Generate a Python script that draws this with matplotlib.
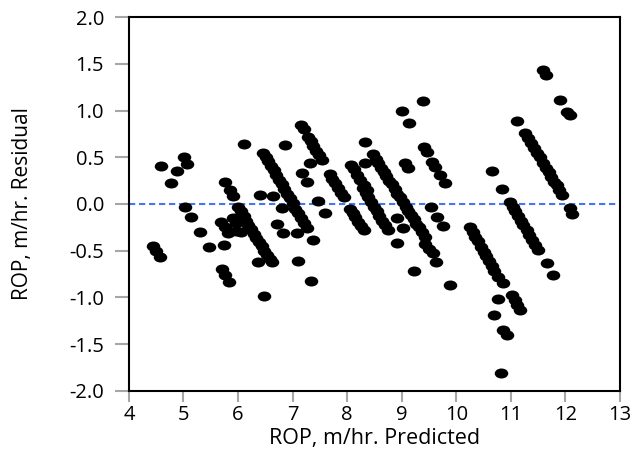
import matplotlib
matplotlib.use('Agg')
import matplotlib.pyplot as plt
from matplotlib.path import Path
from matplotlib.transforms import Affine2D

plt.rcParams['font.family'] = ['Open Sans', 'DejaVu Sans']

# predicted ROP (m/hr) and residual (m/hr)
pred = [
    4.44, 4.49, 4.57, 4.59, 4.88, 5.01, 5.06, 4.77,
    5.03, 5.14, 5.30, 5.47, 5.76, 5.85, 5.91,
    5.69, 5.76, 5.81, 5.91, 5.96, 6.05, 5.97, 5.74,
    5.70, 5.76, 5.83, 6.11,
    6.00, 6.05, 6.10, 6.14, 6.19, 6.24, 6.29, 6.33, 6.38, 6.43, 6.48, 6.53, 6.58, 6.62,
    6.36, 6.47,
    6.40, 6.64, 6.80, 6.71, 6.83, 7.08, 7.10, 7.34, 7.37,
    6.46, 6.51, 6.55, 6.60, 6.65, 6.70, 6.75, 6.80, 6.85, 6.90, 6.95, 7.00,
    7.05, 7.10, 7.15, 7.20, 7.26,
    6.86, 7.15, 7.20,
    7.28, 7.33, 7.38, 7.43, 7.48, 7.54,
    7.32, 7.17, 7.26, 7.46, 7.59,
    7.68, 7.73, 7.78, 7.83, 7.88, 7.94,
    8.05, 8.10, 8.15, 8.20, 8.25, 8.30,
    8.07, 8.12, 8.18, 8.24, 8.30, 8.36,
    8.29, 8.34, 8.39, 8.44, 8.49, 8.54, 8.59, 8.64, 8.69, 8.75,
    8.47, 8.52, 8.57, 8.62, 8.67, 8.72, 8.77, 8.82, 8.87, 8.92, 8.97, 9.02,
    9.07, 9.12, 9.17, 9.22, 9.27, 9.32, 9.37, 9.42,
    8.33, 8.33,
    8.91, 9.02, 8.91,
    9.06, 9.11,
    9.00, 9.39, 9.13,
    9.41, 9.46, 9.55, 9.61, 9.70, 9.79,
    9.54, 9.64, 9.75,
    9.42, 9.50, 9.57, 9.63, 9.22, 9.88,
    10.66, 10.83,
    10.25, 10.30, 10.35, 10.40, 10.45, 10.50, 10.55, 10.60, 10.65, 10.70, 10.76,
    10.86, 10.76, 11.02, 11.07, 11.12, 11.17, 10.69, 10.86, 10.93, 10.82,
    10.98, 11.03, 11.08, 11.13, 11.18, 11.23, 11.29, 11.34, 11.39, 11.44, 11.50,
    11.66, 11.77,
    11.11,
    11.26, 11.31, 11.37, 11.42, 11.47, 11.53,
    11.59, 11.64, 11.69, 11.74, 11.79, 11.84, 11.89, 11.94,
    12.08, 12.12,
    11.59, 11.64, 11.90, 12.03, 12.08,
]
resid = [
    -0.45, -0.50, -0.57, 0.41, 0.35, 0.50, 0.43, 0.22,
    -0.03, -0.14, -0.30, -0.46, 0.24, 0.15, 0.09,
    -0.19, -0.25, -0.31, -0.15, -0.20, -0.30, -0.29, -0.44,
    -0.70, -0.76, -0.83, 0.64,
    -0.03, -0.08, -0.13, -0.18, -0.22, -0.27, -0.32, -0.36, -0.41, -0.45, -0.50, -0.55, -0.59, -0.62,
    -0.62, -0.98,
    0.10, 0.09, -0.04, -0.21, -0.31, -0.31, -0.61, -0.82, -0.38,
    0.55, 0.50, 0.46, 0.41, 0.36, 0.31, 0.26, 0.21, 0.16, 0.11, 0.06, 0.01,
    -0.05, -0.10, -0.15, -0.20, -0.26,
    0.63, 0.85, 0.80,
    0.72, 0.67, 0.62, 0.57, 0.52, 0.47,
    0.44, 0.33, 0.24, 0.03, -0.10,
    0.32, 0.27, 0.22, 0.17, 0.12, 0.07,
    -0.05, -0.10, -0.14, -0.19, -0.24, -0.28,
    0.42, 0.37, 0.31, 0.26, 0.20, 0.15,
    0.17, 0.12, 0.07, 0.02, -0.03, -0.08, -0.13, -0.18, -0.23, -0.28,
    0.53, 0.48, 0.44, 0.39, 0.34, 0.30, 0.25, 0.21, 0.16, 0.11, 0.07, 0.02,
    -0.03, -0.07, -0.12, -0.16, -0.21, -0.25, -0.30, -0.35,
    0.66, 0.44,
    -0.15, -0.26, -0.42,
    0.44, 0.39,
    1.00, 1.10, 0.87,
    0.61, 0.56, 0.45, 0.40, 0.31, 0.22,
    -0.03, -0.14, -0.24,
    -0.43, -0.48, -0.52, -0.62, -0.72, -0.87,
    0.35, 0.16,
    -0.25, -0.30, -0.35, -0.40, -0.46, -0.51, -0.56, -0.61, -0.66, -0.72, -0.78,
    -0.85, -1.02, -0.97, -1.03, -1.08, -1.13, -1.19, -1.35, -1.40, -1.81,
    0.02, -0.03, -0.08, -0.13, -0.18, -0.23, -0.28, -0.33, -0.39, -0.44, -0.49,
    -0.63, -0.76,
    0.89,
    0.76, 0.71, 0.65, 0.60, 0.55, 0.50,
    0.44, 0.39, 0.34, 0.29, 0.24, 0.20, 0.15, 0.10,
    -0.04, -0.11,
    1.43, 1.38, 1.11, 0.98, 0.95,
]

xticks = [4, 5, 6, 7, 8, 9, 10, 11, 12, 13]
yticks = [-2.0, -1.5, -1.0, -0.5, 0.0, 0.5, 1.0, 1.5, 2.0]

# wide oval marker like the original
oval = Path.unit_circle().transformed(Affine2D().scale(1.0, 0.74))

fig = plt.figure(figsize=(6.32, 4.61), dpi=100)
ax = fig.add_axes([0.204, 0.152, 0.777, 0.811])

ax.axhline(0, color='#4577f5', linestyle=(0, (3, 1.8)), linewidth=1.5, zorder=1)
ax.scatter(pred, resid, marker=oval, s=95, color='black', linewidths=0, zorder=2)

ax.set_xlim(4, 13)
ax.set_ylim(-2, 2)
ax.set_xticks(xticks)
ax.set_yticks(yticks)
ax.set_yticklabels([f'{v:.1f}' for v in yticks])

for s in ax.spines.values():
    s.set_linewidth(1.5)
    s.set_color('black')

ax.tick_params(axis='x', direction='out', length=8, width=1.5, color='#a6a6a6',
               labelsize=14.5, pad=2)
ax.tick_params(axis='y', direction='out', length=10, width=1.5, color='#a6a6a6',
               labelsize=14.5, pad=8)

ax.set_xlabel('ROP, m/hr. Predicted', fontsize=15.5)
ax.set_ylabel('ROP, m/hr. Residual', fontsize=15)
ax.xaxis.set_label_coords(0.5, -0.098)
ax.yaxis.set_label_coords(-0.196, 0.5)

fig.savefig('out.png', dpi=100)
